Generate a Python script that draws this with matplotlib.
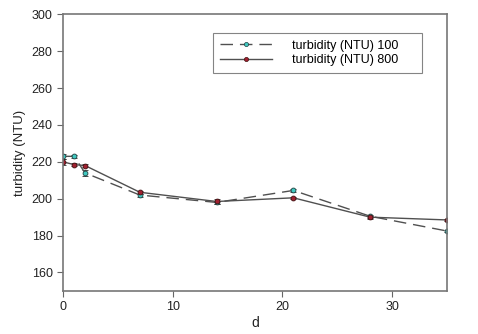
import numpy as np
import matplotlib
matplotlib.use("Agg")
from matplotlib import pyplot as plt
from matplotlib.lines import Line2D

days = [0, 1, 2, 7, 14, 21, 28, 35]
ntu_100 = [223, 223, 214, 202, 198, 204.5, 190.5, 182.5]
ntu_100_err = [1.2, 0.8, 1.5, 0.8, 1.0, 0.8, 0.8, 0.6]
ntu_800 = [220, 218.5, 218, 203.5, 198.5, 200.5, 190, 188.5]
ntu_800_err = [1.5, 0.8, 1.0, 0.8, 1.2, 0.6, 0.8, 0.6]
labels = ['turbidity (NTU) 100', 'turbidity (NTU) 800']

plt.rcParams['font.family'] = ['Liberation Sans', 'DejaVu Sans']
fig = plt.figure(figsize=(4.78, 3.34), dpi=100)
ax = fig.add_axes([0.132, 0.129, 0.803, 0.828])

line_col = '#505050'
dash = (0, (9, 5))
c100, e100 = '#40c8c0', '#204040'
c800, e800 = '#a02030', '#401010'

ax.errorbar(days, ntu_100, yerr=ntu_100_err, color=line_col, lw=1, ls=dash,
            marker='o', ms=3.5, mfc=c100, mec=e100, mew=0.6,
            ecolor='#303030', elinewidth=0.8, capsize=2.5)
ax.errorbar(days, ntu_800, yerr=ntu_800_err, color=line_col, lw=1, ls='-',
            marker='o', ms=3.5, mfc=c800, mec=e800, mew=0.6,
            ecolor='#303030', elinewidth=0.8, capsize=2.5)

ax.set_xlim(0, 35)
ax.set_ylim(150, 300)
ax.set_xticks([0, 10, 20, 30])
ax.set_yticks(np.arange(160, 301, 20))
ax.set_xlabel('d', fontsize=10, color='#222222', labelpad=2)
ax.set_ylabel('turbidity (NTU)', fontsize=9.5, color='#222222', labelpad=4)
ax.tick_params(labelsize=9, labelcolor='#222222', length=4, width=0.8,
               top=False, right=False, direction='out', color='#666666')
for s in ax.spines.values():
    s.set_color('#777777')
    s.set_linewidth(1.2)

# legend handles without the error bar glyphs
handles = [Line2D([], [], color=line_col, lw=1, ls=dash, marker='o', ms=3,
                  mfc=c100, mec=e100, mew=0.5),
           Line2D([], [], color=line_col, lw=1, ls='-', marker='o', ms=3,
                  mfc=c800, mec=e800, mew=0.5)]
leg = ax.legend(handles, labels, loc='upper left', mode='expand',
                bbox_to_anchor=(0.39, 0, 0.544, 0.933), borderaxespad=0,
                fontsize=9, frameon=True, fancybox=False, edgecolor='#666666',
                handlelength=4.2, handletextpad=1.6, borderpad=0.55,
                labelspacing=0.2)
leg.get_frame().set_linewidth(0.8)

plt.savefig('out.png', dpi=100)
